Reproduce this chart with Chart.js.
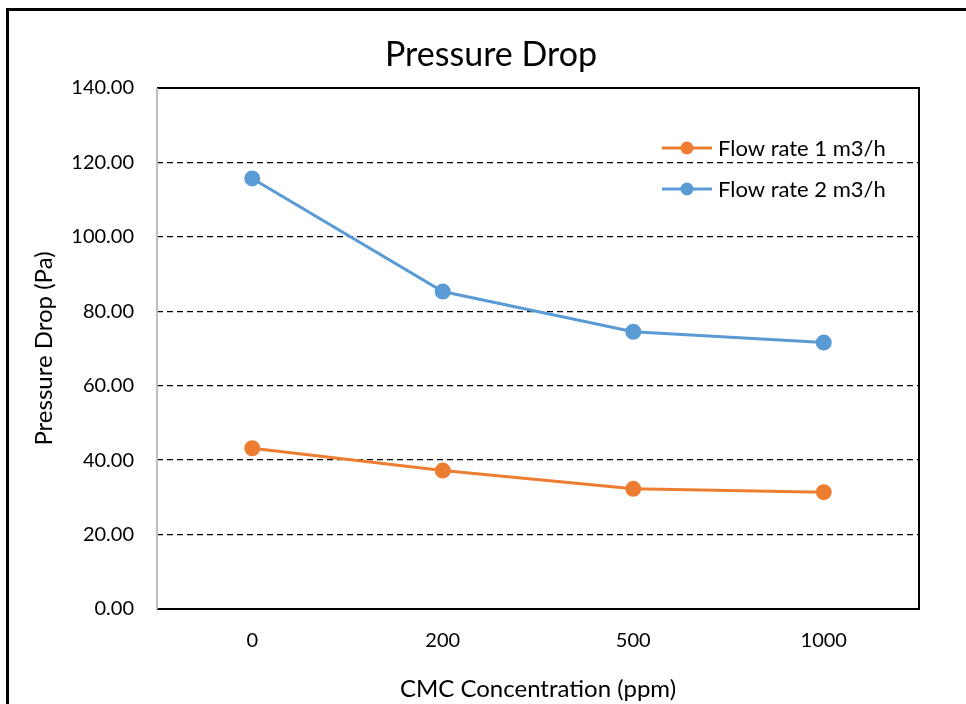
<!DOCTYPE html>
<html>
<head>
<meta charset="utf-8">
<script src="https://cdn.jsdelivr.net/npm/chart.js@4.4.1/dist/chart.umd.min.js"></script>
<style>
  body { margin: 0; background: #fff; overflow: hidden; }
  #wrap { position: absolute; left: 0; top: 0; width: 966px; height: 704px; }
  #frame { position: absolute; left: 6px; top: 8px; width: 1100px; height: 900px;
           border-top: 3px solid #000; border-left: 3px solid #000; pointer-events: none; }
</style>
</head>
<body>
<div id="wrap">
  <canvas id="chart" width="966" height="704"></canvas>
  <div id="frame"></div>
</div>
<script>
const categories = ["0", "200", "500", "1000"];
const flow1 = [43.2, 37.2, 32.3, 31.4];
const flow2 = [115.7, 85.3, 74.5, 71.6];
const seriesNames = ["Flow rate 1 m3/h", "Flow rate 2 m3/h"];
const seriesColors = ["#ED7D31", "#5B9BD5"];
const chartTitle = "Pressure Drop";

const FONT = "Lato, 'Open Sans', sans-serif";

// frame round the plot, title and legend inside the plot area
const plotDecor = {
  id: "plotDecor",
  afterDatasetsDraw(chart) {
    const { ctx, chartArea: a } = chart;
    ctx.save();
    ctx.strokeStyle = "#000";
    ctx.lineWidth = 2;
    ctx.beginPath();
    ctx.moveTo(a.left, a.top);
    ctx.lineTo(a.right, a.top);
    ctx.lineTo(a.right, a.bottom);
    ctx.lineTo(a.left, a.bottom);
    ctx.stroke();
    ctx.strokeStyle = "#BFBFBF";
    ctx.beginPath();
    ctx.moveTo(a.left, a.top);
    ctx.lineTo(a.left, a.bottom);
    ctx.stroke();

    ctx.fillStyle = "#000";
    ctx.font = "34px " + FONT;
    ctx.textAlign = "center";
    ctx.textBaseline = "middle";
    ctx.fillText(chartTitle, 491, 55);

    // legend
    const x0 = 662, x1 = 712;
    const ys = [148, 189];
    chart.data.datasets.forEach((ds, i) => {
      const y = ys[i];
      ctx.strokeStyle = ds.borderColor;
      ctx.lineWidth = 3;
      ctx.beginPath();
      ctx.moveTo(x0, y);
      ctx.lineTo(x1, y);
      ctx.stroke();
      ctx.fillStyle = ds.backgroundColor;
      ctx.beginPath();
      ctx.arc((x0 + x1) / 2, y, 6.5, 0, Math.PI * 2);
      ctx.fill();
      ctx.fillStyle = "#000";
      ctx.font = "22px " + FONT;
      ctx.textBaseline = "middle";
      ctx.textAlign = "left";
      ctx.fillText(ds.label, x1 + 6, y + 1);
    });
    ctx.restore();
  }
};

new Chart(document.getElementById("chart").getContext("2d"), {
  type: "line",
  data: {
    labels: categories,
    datasets: [
      {
        label: seriesNames[0],
        data: flow1,
        borderColor: seriesColors[0],
        backgroundColor: seriesColors[0],
        borderWidth: 3,
        pointRadius: 6.5,
        pointHoverRadius: 6.5,
        tension: 0,
      },
      {
        label: seriesNames[1],
        data: flow2,
        borderColor: seriesColors[1],
        backgroundColor: seriesColors[1],
        borderWidth: 3,
        pointRadius: 6.5,
        pointHoverRadius: 6.5,
        tension: 0,
      },
    ],
  },
  options: {
    responsive: false,
    animation: false,
    layout: { padding: { top: 88, right: 47, left: 0, bottom: 0 } },
    plugins: {
      legend: { display: false },
      tooltip: { enabled: false },
      title: { display: false },
    },
    scales: {
      x: {
        offset: true,
        grid: { display: false, drawTicks: false },
        border: { display: false },
        ticks: { color: "#000", font: { family: FONT, size: 20 }, padding: 20 },
        title: {
          display: true,
          text: "CMC Concentration (ppm)",
          color: "#000",
          font: { family: FONT, size: 24 },
          padding: { top: 3, bottom: 0 },
        },
        afterFit(scale) { scale.height = 95; },
      },
      y: {
        min: 0,
        max: 140,
        ticks: {
          stepSize: 20,
          color: "#000",
          font: { family: FONT, size: 20 },
          padding: 23,
          callback: (v) => v.toFixed(2),
        },
        grid: {
          color: (c) => (c.tick && (c.tick.value === 0 || c.tick.value === 140) ? "rgba(0,0,0,0)" : "#000"),
          lineWidth: 1.3,
          drawTicks: false,
        },
        border: { display: false, dash: [6, 4] },
        title: {
          display: true,
          text: "Pressure Drop (Pa)",
          color: "#000",
          font: { family: FONT, size: 24 },
          padding: { top: 30, bottom: 8 },
        },
        afterFit(scale) { scale.width = 157; },
      },
    },
  },
  plugins: [plotDecor],
});
</script>
</body>
</html>
